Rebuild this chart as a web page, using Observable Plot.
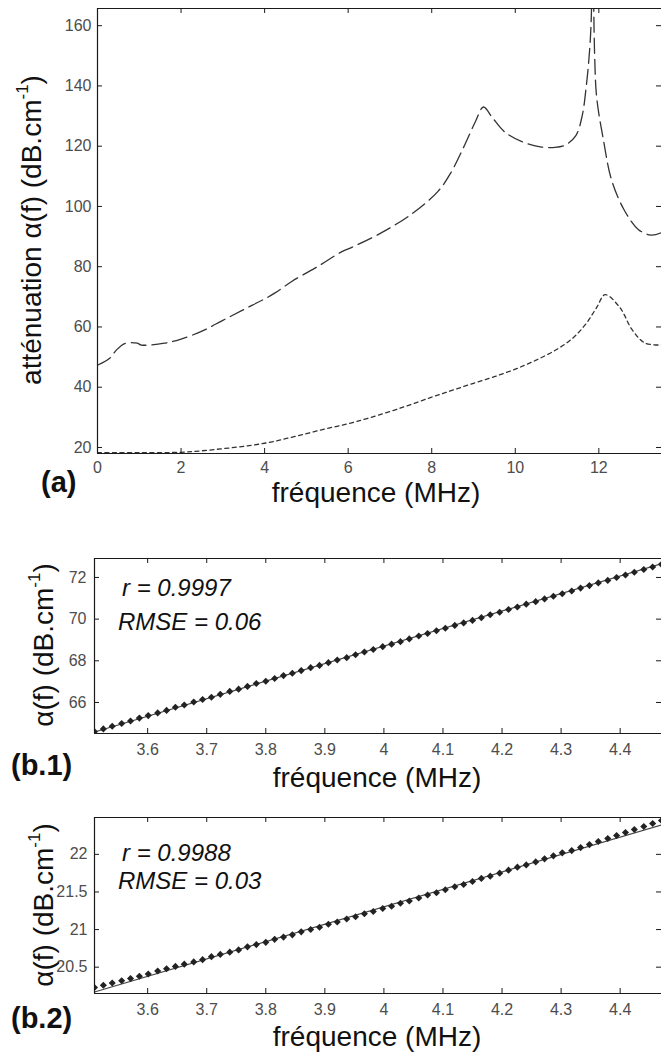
<!DOCTYPE html>
<html>
<head>
<meta charset="utf-8">
<script src="https://cdn.jsdelivr.net/npm/d3@7"></script>
<script src="https://cdn.jsdelivr.net/npm/@observablehq/plot@0.6"></script>
<style>
html, body { margin: 0; padding: 0; background: #fff; overflow: hidden; }
#root { position: relative; width: 661px; height: 1055px; font-family: "Liberation Sans", Arial, sans-serif; color: #111; }
#root svg { position: absolute; left: 0; }
.c { position: absolute; white-space: nowrap; line-height: 1; transform: translate(-50%, -50%); }
.xl { font-size: 28px; }
.tag { position: absolute; font-size: 29px; font-weight: bold; line-height: 1; transform: translateY(-50%); white-space: nowrap; }
.yt { font-size: 28px; transform: translate(-50%, -50%) rotate(-90deg); }
.yt sup { font-size: 17px; line-height: 0; vertical-align: 0.75em; }
.ann { position: absolute; font-size: 24px; font-style: italic; line-height: 1; transform: translateY(-50%); white-space: nowrap; }
</style>
</head>
<body>
<div id="root"></div>
<script>
// ---------- Panel (a) data ----------
const freqDashed = [0, 0.3, 0.45, 0.65, 0.95, 1.05, 1.6, 2.0, 2.5, 3.0, 3.5, 4.0, 4.25, 4.65, 5.3, 5.85, 6.1, 6.8, 7.5, 8.15, 8.45, 8.8, 9.05, 9.24, 9.45, 9.75, 10.2, 10.6, 10.95, 11.2, 11.45, 11.6, 11.7, 11.78, 11.82, 11.85, 11.9, 11.95, 12.12, 12.3, 12.6, 12.95, 13.25, 13.5];
const attenDashed = [47.3, 49.7, 52.3, 54.5, 54.6, 54.0, 54.6, 56.0, 58.6, 62.2, 65.8, 69.3, 71.3, 75.1, 80.3, 85.0, 86.5, 91.3, 97.3, 105, 111, 120.7, 128.3, 133, 129.5, 124.7, 121.3, 119.8, 119.6, 120.4, 123.5, 130, 140, 152, 163, 190, 150, 136, 121.3, 109, 99, 92.3, 90.5, 91.3];

const freqDotted = [0, 1, 2, 2.5, 3, 3.5, 4, 4.5, 5, 5.5, 6, 6.5, 7.3, 8, 8.5, 9, 9.5, 10, 10.5, 11.0, 11.4, 11.7, 11.95, 12.15, 12.5, 12.8, 13.1, 13.5];
const attenDotted = [18.3, 18.3, 18.4, 18.9, 19.6, 20.4, 21.4, 22.9, 24.6, 26.3, 27.9, 29.8, 33.3, 36.7, 39, 41.3, 43.5, 46, 49.0, 52.6, 56.6, 61.2, 66.5, 70.7, 66.5, 59, 54.7, 54];

const xTicksA = [0, 2, 4, 6, 8, 10, 12];
const yTicksA = [20, 40, 60, 80, 100, 120, 140, 160];

// ---------- Panels (b.1) and (b.2) data ----------
const freqB = [3.510, 3.525, 3.540, 3.556, 3.571, 3.586, 3.601, 3.617, 3.632, 3.647,
  3.662, 3.678, 3.693, 3.708, 3.723, 3.739, 3.754, 3.769, 3.784, 3.800,
  3.815, 3.830, 3.845, 3.860, 3.876, 3.891, 3.906, 3.921, 3.937, 3.952,
  3.967, 3.982, 3.998, 4.013, 4.028, 4.043, 4.059, 4.074, 4.089, 4.104,
  4.120, 4.135, 4.150, 4.165, 4.180, 4.196, 4.211, 4.226, 4.241, 4.257,
  4.272, 4.287, 4.302, 4.318, 4.333, 4.348, 4.363, 4.379, 4.394, 4.409,
  4.424, 4.440, 4.455, 4.470];
const alphaB1 = [64.60, 64.73, 64.86, 64.99, 65.11, 65.25, 65.37, 65.50, 65.62, 65.77,
  65.88, 66.02, 66.14, 66.25, 66.39, 66.53, 66.64, 66.77, 66.91, 67.02,
  67.15, 67.29, 67.40, 67.53, 67.67, 67.78, 67.91, 68.04, 68.15, 68.29,
  68.42, 68.54, 68.68, 68.80, 68.92, 69.05, 69.19, 69.31, 69.44, 69.56,
  69.70, 69.82, 69.94, 70.07, 70.21, 70.33, 70.46, 70.58, 70.72, 70.84,
  70.97, 71.10, 71.22, 71.35, 71.49, 71.61, 71.74, 71.86, 72.00, 72.12,
  72.25, 72.38, 72.50, 72.63];
const alphaB2 = [20.23, 20.26, 20.29, 20.32, 20.35, 20.38, 20.41, 20.45, 20.48, 20.51,
  20.54, 20.57, 20.60, 20.64, 20.67, 20.70, 20.73, 20.77, 20.80, 20.83,
  20.87, 20.90, 20.93, 20.97, 21.00, 21.03, 21.07, 21.10, 21.14, 21.17,
  21.21, 21.24, 21.28, 21.31, 21.35, 21.38, 21.42, 21.46, 21.49, 21.53,
  21.57, 21.60, 21.64, 21.68, 21.71, 21.75, 21.79, 21.83, 21.86, 21.90,
  21.94, 21.98, 22.02, 22.05, 22.09, 22.13, 22.17, 22.21, 22.25, 22.29,
  22.33, 22.37, 22.41, 22.45];
const fitFreq = [3.51, 4.47];
const fitB1 = [64.58, 72.66];
const fitB2 = [20.17, 22.39];

const xTicksB = [3.6, 3.7, 3.8, 3.9, 4, 4.1, 4.2, 4.3, 4.4];
const yTicksB1 = [66, 68, 70, 72];
const yTicksB2 = [20.5, 21, 21.5, 22];

// ---------- helpers ----------
const zipRows = (xs, ys) => xs.map((x, i) => ({x, y: ys[i]}));
const FR = "#1a1a1a";
const TXT = "#4d4d4d";

function panel(o) {
  const W = 661 - o.ml;
  const H = o.height - o.mt - o.mb;
  const svg = Plot.plot({
    width: 661,
    height: o.height,
    marginTop: o.mt,
    marginBottom: o.mb,
    marginLeft: o.ml,
    marginRight: 0,
    style: {fontFamily: '"Liberation Sans", Arial, sans-serif', fontSize: "16px", color: TXT, background: "transparent", overflow: "visible"},
    x: {domain: o.xDomain},
    y: {domain: o.yDomain},
    marks: [
      ...o.marks,
      Plot.ruleY([o.yDomain[1]], {stroke: FR, strokeWidth: 1.2}),
      Plot.ruleY([o.yDomain[0]], {stroke: FR, strokeWidth: 1.2}),
      Plot.ruleX([o.xDomain[0]], {stroke: FR, strokeWidth: 1.2}),
      Plot.tickX(o.xTicks, {x: d => d, insetTop: H - 5, stroke: FR}),
      Plot.tickX(o.xTicks, {x: d => d, insetBottom: H - 5, stroke: FR}),
      Plot.tickY(o.yTicks, {y: d => d, insetRight: W - 5, stroke: FR}),
      Plot.tickY(o.yTicks, {y: d => d, insetLeft: W - 5, stroke: FR}),
      Plot.axisX(o.xTicks, {tickSize: 0, tickPadding: o.xPad, label: null, tickFormat: d => String(d), fill: TXT}),
      Plot.axisY(o.yTicks, {tickSize: 0, tickPadding: o.yPad, label: null, tickFormat: d => String(d), fill: TXT})
    ]
  });
  svg.style.top = o.top + "px";
  return svg;
}

const root = document.getElementById("root");

// Panel (a)
root.appendChild(panel({
  top: 0, height: 480, mt: 8, mb: 27, ml: 97,
  xDomain: [0, 13.5], yDomain: [18, 165.7],
  xTicks: xTicksA, yTicks: yTicksA, xPad: 8, yPad: 6,
  marks: [
    Plot.line(zipRows(freqDashed, attenDashed), {x: "x", y: "y", stroke: "#333", strokeWidth: 1.3, strokeDasharray: "15,6", curve: "catmull-rom", clip: true}),
    Plot.line(zipRows(freqDotted, attenDotted), {x: "x", y: "y", stroke: "#333", strokeWidth: 1.3, strokeDasharray: "4,3.5", curve: "catmull-rom", clip: true})
  ]
}));

// Panel (b.1)
root.appendChild(panel({
  top: 550, height: 210, mt: 8, mb: 27, ml: 94,
  xDomain: [3.51, 4.47], yDomain: [64.51, 72.91],
  xTicks: xTicksB, yTicks: yTicksB1, xPad: 10, yPad: 8,
  marks: [
    Plot.line(zipRows(fitFreq, fitB1), {x: "x", y: "y", stroke: "#444", strokeWidth: 1.2, clip: true}),
    Plot.dot(zipRows(freqB, alphaB1), {x: "x", y: "y", symbol: "diamond2", r: 3.2, fill: "#222", stroke: "none", clip: true})
  ]
}));

// Panel (b.2)
root.appendChild(panel({
  top: 809, height: 210, mt: 8, mb: 26, ml: 94,
  xDomain: [3.51, 4.47], yDomain: [20.15, 22.49],
  xTicks: xTicksB, yTicks: yTicksB2, xPad: 10, yPad: 7,
  marks: [
    Plot.line(zipRows(fitFreq, fitB2), {x: "x", y: "y", stroke: "#444", strokeWidth: 1.2, clip: true}),
    Plot.dot(zipRows(freqB, alphaB2), {x: "x", y: "y", symbol: "diamond2", r: 3.2, fill: "#222", stroke: "none", clip: true})
  ]
}));

// Text labels
function addText(cls, html, left, top) {
  const d = document.createElement("div");
  d.className = cls;
  d.innerHTML = html;
  d.style.left = left + "px";
  d.style.top = top + "px";
  root.appendChild(d);
}
const yTitleA = "atténuation α(f) (dB.cm<sup>-1</sup>)";
const yTitleB = "α(f) (dB.cm<sup>-1</sup>)";
const xTitle = "fréquence (MHz)";

addText("c yt", yTitleA, 32, 230);
addText("c xl", xTitle, 376, 493);
addText("tag", "(a)", 41, 482);

addText("c yt", yTitleB, 44, 645);
addText("c xl", xTitle, 377, 778);
addText("tag", "(b.1)", 11, 765);
addText("ann", "r = 0.9997", 122, 588);
addText("ann", "RMSE = 0.06", 118, 622);

addText("c yt", yTitleB, 44, 905);
addText("c xl", xTitle, 377, 1037);
addText("tag", "(b.2)", 11, 1018);
addText("ann", "r = 0.9988", 122, 853);
addText("ann", "RMSE = 0.03", 118, 881);
</script>
</body>
</html>
